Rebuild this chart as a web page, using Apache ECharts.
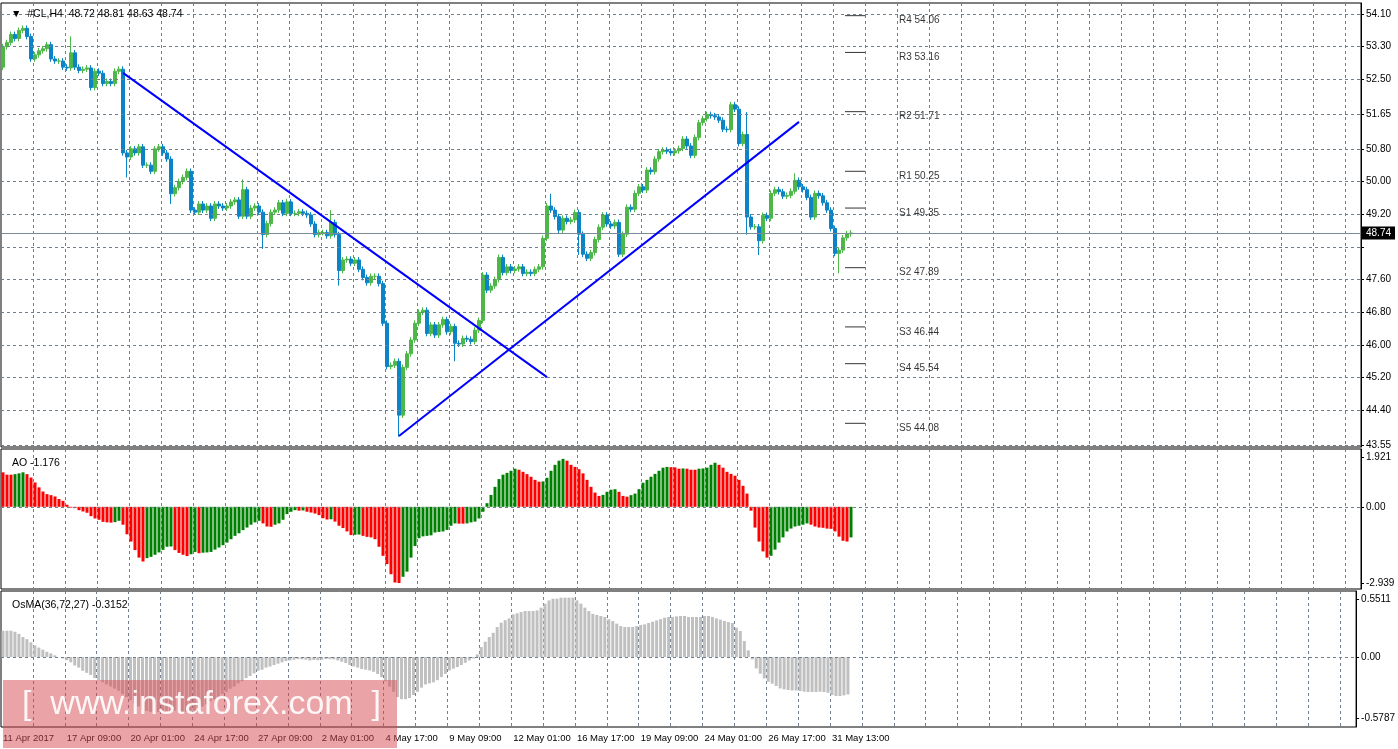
<!DOCTYPE html>
<html>
<head>
<meta charset="UTF-8">
<title>#CL H4</title>
<script src="https://cdn.jsdelivr.net/npm/echarts@6.0.0/dist/echarts.min.js"></script>
<style>
    body { margin: 0; padding: 0; background: #fff; }
    #chart { width: 1398px; height: 749px; }
</style>
</head>
<body>
<div id="chart"></div>
<script>
// x labels, one every 16 H4 bars
const timeLabels = ['11 Apr 2017', '17 Apr 09:00', '20 Apr 01:00', '24 Apr 17:00', '27 Apr 09:00', '2 May 01:00',
    '4 May 17:00', '9 May 09:00', '12 May 01:00', '16 May 17:00', '19 May 09:00', '24 May 01:00', '26 May 17:00', '31 May 13:00'];

const firstOpen = 52.8;
const closes = [
    53.3,53.4,53.6,53.5,53.7,53.75,53.55,53.0,53.1,53.2,
    53.25,53.35,53.0,52.95,52.95,52.8,52.78,53.15,52.8,52.72,
    52.75,52.78,52.3,52.7,52.65,52.4,52.45,52.4,52.7,52.75,
    50.7,50.6,50.8,50.7,50.85,50.4,50.4,50.25,50.8,50.85,
    50.7,50.55,49.7,49.85,50.0,50.1,50.25,49.3,49.25,49.45,
    49.3,49.4,49.1,49.45,49.4,49.35,49.4,49.5,49.55,49.15,
    49.8,49.15,49.35,49.4,49.25,48.7,48.97,49.25,49.3,49.48,
    49.22,49.5,49.22,49.22,49.26,49.22,49.18,48.96,48.7,48.75,
    48.75,48.67,49.0,48.7,47.82,48.08,48.1,48.0,48.08,47.85,
    47.65,47.52,47.68,47.68,47.5,46.53,45.47,45.5,45.6,44.28,
    45.45,45.78,46.12,46.53,46.8,46.85,46.28,46.49,46.24,46.49,
    46.62,46.32,46.45,46.04,46.02,46.16,46.14,46.08,46.36,46.6,
    47.71,47.34,47.44,47.6,48.14,47.77,47.91,47.82,47.86,47.91,
    47.75,47.78,47.75,47.85,47.91,48.61,49.4,49.3,49.14,48.81,
    49.1,49.02,49.06,49.24,48.71,48.22,48.12,48.26,48.58,48.88,
    49.18,48.96,48.91,49.0,48.22,48.71,49.37,49.32,49.71,49.87,
    49.79,50.28,50.24,50.55,50.73,50.77,50.74,50.70,50.75,50.81,
    51.04,50.87,50.64,51.08,51.44,51.54,51.64,51.61,51.58,51.5,
    51.28,51.27,51.88,51.77,50.93,51.15,49.13,48.89,48.89,48.55,
    49.17,49.1,49.71,49.8,49.75,49.64,49.66,49.76,50.03,49.87,
    49.8,49.61,49.13,49.71,49.65,49.48,49.3,48.85,48.24,48.32,
    48.62,48.72,48.74
];
// a few long shadows that stand out
const longLows = { 31: 50.1, 42: 49.45, 65: 48.35, 84: 47.45, 99: 43.75, 113: 45.6, 144: 48.2, 186: 48.7, 189: 48.2, 209: 47.75 };
const longHighs = { 17: 53.55, 60: 50.05, 82: 49.3, 137: 49.7, 182: 51.95, 186: 51.7, 198: 50.2 };

const aoValues = [
    1.33,1.24,1.24,1.26,1.29,1.33,1.26,1.13,0.94,0.75,
    0.59,0.49,0.45,0.40,0.30,0.23,0.08,-0.03,-0.05,-0.13,
    -0.18,-0.23,-0.36,-0.45,-0.50,-0.58,-0.60,-0.61,-0.59,-0.54,
    -0.69,-1.06,-1.34,-1.67,-1.96,-2.11,-1.98,-1.93,-1.85,-1.76,
    -1.66,-1.54,-1.53,-1.67,-1.78,-1.85,-1.90,-1.83,-1.74,-1.79,
    -1.77,-1.76,-1.74,-1.65,-1.57,-1.48,-1.38,-1.25,-1.12,-1.02,
    -0.90,-0.80,-0.69,-0.60,-0.54,-0.64,-0.76,-0.77,-0.69,-0.64,
    -0.50,-0.28,-0.19,-0.13,-0.15,-0.14,-0.19,-0.22,-0.26,-0.32,
    -0.44,-0.49,-0.48,-0.57,-0.73,-0.82,-0.95,-1.09,-1.08,-1.07,
    -1.12,-1.16,-1.18,-1.25,-1.54,-1.89,-2.21,-2.60,-2.92,-2.94,
    -2.70,-2.50,-1.96,-1.51,-1.21,-1.14,-1.12,-1.10,-0.99,-0.97,
    -0.95,-0.89,-0.73,-0.64,-0.65,-0.65,-0.64,-0.60,-0.57,-0.45,
    -0.19,0.14,0.46,0.77,1.07,1.24,1.31,1.39,1.47,1.43,
    1.35,1.26,1.16,1.04,0.97,0.98,1.12,1.39,1.62,1.78,
    1.85,1.78,1.62,1.54,1.45,1.29,1.04,0.77,0.55,0.42,
    0.46,0.58,0.66,0.68,0.58,0.42,0.39,0.45,0.51,0.68,
    0.93,1.04,1.16,1.27,1.39,1.51,1.54,1.53,1.52,1.47,
    1.48,1.47,1.43,1.43,1.47,1.48,1.51,1.62,1.70,1.62,
    1.51,1.35,1.27,1.20,1.04,0.81,0.51,-0.15,-0.80,-1.34,
    -1.72,-1.96,-1.89,-1.65,-1.38,-1.18,-0.95,-0.84,-0.76,-0.73,
    -0.69,-0.64,-0.69,-0.76,-0.80,-0.81,-0.84,-0.85,-0.95,-1.15,
    -1.31,-1.34,-1.18
];

const osmaValues = [
    0.25,0.25,0.25,0.24,0.22,0.19,0.17,0.14,0.11,0.09,
    0.07,0.05,0.035,0.016,0.0,-0.013,-0.03,-0.05,-0.08,-0.10,
    -0.13,-0.15,-0.17,-0.20,-0.22,-0.24,-0.26,-0.28,-0.30,-0.32,
    -0.35,-0.38,-0.41,-0.44,-0.47,-0.50,-0.51,-0.52,-0.52,-0.52,
    -0.51,-0.51,-0.51,-0.51,-0.51,-0.52,-0.52,-0.51,-0.51,-0.49,
    -0.47,-0.45,-0.42,-0.40,-0.38,-0.35,-0.33,-0.30,-0.28,-0.25,
    -0.23,-0.20,-0.18,-0.155,-0.13,-0.12,-0.10,-0.09,-0.076,-0.063,
    -0.05,-0.038,-0.032,-0.025,-0.019,-0.022,-0.025,-0.032,-0.028,-0.03,
    -0.025,-0.02,-0.02,-0.022,-0.032,-0.044,-0.057,-0.076,-0.089,-0.10,
    -0.114,-0.12,-0.127,-0.14,-0.16,-0.19,-0.23,-0.28,-0.33,-0.38,
    -0.40,-0.40,-0.39,-0.36,-0.33,-0.29,-0.26,-0.25,-0.24,-0.22,
    -0.19,-0.16,-0.127,-0.11,-0.095,-0.076,-0.054,-0.032,-0.013,0.025,
    0.095,0.146,0.19,0.23,0.285,0.326,0.35,0.367,0.405,0.415,
    0.427,0.437,0.437,0.437,0.443,0.469,0.507,0.538,0.554,0.554,
    0.564,0.564,0.564,0.564,0.538,0.507,0.469,0.437,0.41,0.40,
    0.39,0.38,0.358,0.342,0.317,0.294,0.285,0.285,0.285,0.294,
    0.304,0.31,0.323,0.336,0.348,0.36,0.374,0.38,0.38,0.386,
    0.39,0.39,0.38,0.38,0.38,0.38,0.39,0.39,0.38,0.367,
    0.355,0.342,0.332,0.323,0.279,0.247,0.152,0.063,-0.022,-0.108,
    -0.158,-0.203,-0.234,-0.253,-0.275,-0.298,-0.307,-0.313,-0.317,-0.317,
    -0.323,-0.329,-0.332,-0.332,-0.332,-0.329,-0.332,-0.339,-0.361,-0.37,
    -0.37,-0.364,-0.355
];

const priceTicks = [54.10, 53.30, 52.50, 51.65, 50.80, 50.00, 49.20, 48.40, 47.60, 46.80, 46.00, 45.20, 44.40, 43.55];
const pivotNames = ['R4', 'R3', 'R2', 'R1', 'S1', 'S2', 'S3', 'S4', 'S5'];
const pivotValues = [54.06, 53.16, 51.71, 50.25, 49.35, 47.89, 46.44, 45.54, 44.08];
const lastPrice = 48.74;
// trend lines: [bar index, price]
const downTrend = [[30, 52.66], [136, 45.21]];
const upTrend = [[99, 43.77], [199, 51.46]];

const aoTicks = [1.921, 0, -2.939];
const osmaTicks = [0.5511, 0, -0.5787];

const SLOTS = 340;
const cats = Array.from({ length: SLOTS }, (_, i) => i);

const candles = closes.map((c, i) => {
    const o = i === 0 ? firstOpen : closes[i - 1];
    const lo = longLows[i] !== undefined ? longLows[i] : Math.min(o, c) - 0.07;
    const hi = longHighs[i] !== undefined ? longHighs[i] : Math.max(o, c) + 0.07;
    return [o, c, lo, hi];
});

const aoBars = aoValues.map((v, i) => ({
    value: v,
    itemStyle: { color: (i > 0 && v > aoValues[i - 1]) ? '#008000' : '#ff0000' }
}));

const chart = echarts.init(document.getElementById('chart'));
const font = 'Liberation Sans, Arial, sans-serif';
const dashGrid = { type: [3, 3], color: '#6f7f8f', width: 1 };

function xAxisFor(gridIndex, showLabels) {
    return {
        type: 'category', gridIndex, data: cats, boundaryGap: true,
        axisLine: { show: false }, axisTick: { show: false },
        axisLabel: {
            show: showLabels, interval: (i) => i % 16 === 0 && i <= 208, hideOverlap: false,
            formatter: (v) => timeLabels[v / 16] || '',
            align: 'left', margin: 6, color: '#000', fontFamily: font, fontSize: 9.5
        },
        splitLine: { show: true, interval: (i) => i % 8 === 0 && i > 0, lineStyle: dashGrid }
    };
}

function yAxisFor(gridIndex, min, max, ticks, fmt) {
    return {
        type: 'value', gridIndex, position: 'right', min, max, scale: true,
        axisLine: { show: true, lineStyle: { color: '#000' } },
        axisTick: { show: true, customValues: ticks, length: 3, lineStyle: { color: '#000' } },
        axisLabel: { customValues: ticks, formatter: fmt, color: '#000', fontFamily: font, fontSize: 10, margin: 5 },
        splitLine: { show: false }
    };
}

const option = {
    animation: false,
    backgroundColor: '#fff',
    title: [
        { text: '▼  #CL,H4  48.72 48.81 48.63 48.74', left: 6, top: 4, textStyle: { fontFamily: font, fontSize: 10.5, fontWeight: 'normal', color: '#000' } },
        { text: 'AO -1.176', left: 7, top: 453, textStyle: { fontFamily: font, fontSize: 10.5, fontWeight: 'normal', color: '#000' } },
        { text: 'OsMA(36,72,27) -0.3152', left: 7, top: 595, textStyle: { fontFamily: font, fontSize: 10.5, fontWeight: 'normal', color: '#000' } }
    ],
    grid: [
        { left: 1, top: 3, width: 1360, height: 444, show: true, borderColor: '#000', borderWidth: 1, backgroundColor: '#fff' },
        { left: 1, top: 449, width: 1360, height: 140, show: true, borderColor: '#000', borderWidth: 1 },
        { left: 1, top: 591, width: 1360, height: 136, show: true, borderColor: '#000', borderWidth: 1 }
    ],
    xAxis: [xAxisFor(0, false), xAxisFor(1, false), xAxisFor(2, true)],
    yAxis: [
        yAxisFor(0, 43.50, 54.37, priceTicks, (v) => v === 48.40 ? '' : v.toFixed(2)),
        yAxisFor(1, -3.17, 2.23, aoTicks, (v) => v === 0 ? '0.00' : v.toFixed(3)),
        yAxisFor(2, -0.664, 0.627, osmaTicks, (v) => v === 0 ? '0.00' : v.toFixed(4))
    ],
    graphic: [
        { type: 'rect', left: 3, top: 680, shape: { width: 394, height: 68 }, style: { fill: 'rgba(214, 72, 78, 0.5)' }, z: 100 },
        { type: 'text', left: 22, top: 688, style: { text: '[  www.instaforex.com  ]', fill: 'rgba(255,255,255,0.9)', font: '34px Liberation Sans, Arial' }, z: 101 }
    ],
    series: [
        {
            type: 'candlestick', xAxisIndex: 0, yAxisIndex: 0, data: candles, barWidth: 3,
            itemStyle: { color: '#4db848', color0: '#0a84c6', borderColor: '#4db848', borderColor0: '#0a84c6', borderWidth: 1 },
            markLine: {
                silent: true, symbol: 'none', animation: false,
                data: priceTicks.map(v => ({ yAxis: v, lineStyle: dashGrid, label: { show: false } })).concat([{
                    yAxis: lastPrice,
                    lineStyle: { type: 'solid', color: '#7a8a96', width: 1 },
                    label: { show: true, position: 'end', distance: 1, formatter: lastPrice.toFixed(2), color: '#fff',
                        backgroundColor: '#000', padding: [2, 4, 1, 4], fontFamily: font, fontSize: 10 }
                }])
            }
        },
        {
            type: 'line', xAxisIndex: 0, yAxisIndex: 0, data: downTrend, symbol: 'none',
            lineStyle: { color: '#0000ff', width: 2 }, z: 5
        },
        {
            type: 'line', xAxisIndex: 0, yAxisIndex: 0, data: upTrend, symbol: 'none',
            lineStyle: { color: '#0000ff', width: 2 }, z: 5
        },
        {
            // pivot levels: short dashes and labels
            type: 'scatter', xAxisIndex: 0, yAxisIndex: 0, symbol: 'rect', symbolSize: [20, 1],
            itemStyle: { color: '#000' },
            data: pivotValues.map(v => [213, v])
        },
        {
            type: 'scatter', xAxisIndex: 0, yAxisIndex: 0, symbolSize: 0,
            data: pivotValues.map((v, i) => ({ value: [224, v], name: pivotNames[i] + ' ' + v.toFixed(2) })),
            label: { show: true, position: 'right', distance: 0, offset: [0, 5], formatter: (p) => p.name,
                color: '#000', fontFamily: font, fontSize: 10 }
        },
        {
            type: 'bar', xAxisIndex: 1, yAxisIndex: 1, data: aoBars, barWidth: 3,
            markLine: { silent: true, symbol: 'none', data: [{ yAxis: 0, lineStyle: dashGrid, label: { show: false } }] }
        },
        {
            type: 'bar', xAxisIndex: 2, yAxisIndex: 2, data: osmaValues, barWidth: 3, itemStyle: { color: '#c0c0c0' },
            markLine: { silent: true, symbol: 'none', data: [{ yAxis: 0, lineStyle: dashGrid, label: { show: false } }] }
        }
    ]
};

chart.setOption(option);
</script>
</body>
</html>
